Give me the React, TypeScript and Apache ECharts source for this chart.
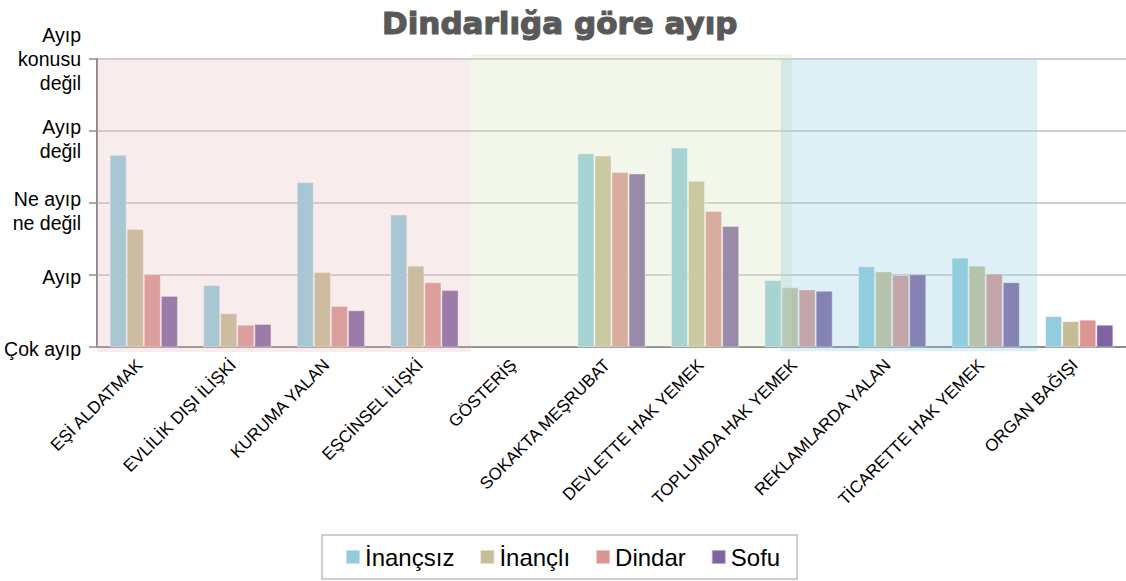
import React, { useEffect, useRef } from "react";
import * as echarts from "echarts";

const categories = [
  "EŞİ ALDATMAK",
  "EVLİLİK DIŞI İLİŞKİ",
  "KURUMA YALAN",
  "EŞCİNSEL İLİŞKİ",
  "GÖSTERİŞ",
  "SOKAKTA MEŞRUBAT",
  "DEVLETTE HAK YEMEK",
  "TOPLUMDA HAK YEMEK",
  "REKLAMLARDA YALAN",
  "TİCARETTE HAK YEMEK",
  "ORGAN BAĞIŞI",
];

const seriesNames = ["İnançsız", "İnançlı", "Dindar", "Sofu"];

const inancsiz = [3.67, 1.86, 3.29, 2.84, null, 3.69, 3.77, 1.93, 2.12, 2.24, 1.43];
const inancli = [2.64, 1.47, 2.04, 2.13, null, 3.66, 3.31, 1.83, 2.05, 2.13, 1.36];
const dindar = [2.01, 1.31, 1.57, 1.9, null, 3.43, 2.89, 1.8, 2.0, 2.02, 1.38];
const sofu = [1.71, 1.32, 1.51, 1.79, null, 3.41, 2.68, 1.78, 2.01, 1.9, 1.31];

const yLevels = ["Çok ayıp", "Ayıp", "Ne ayıp\nne değil", "Ayıp\ndeğil", "Ayıp\nkonusu\ndeğil"];

// background bands, in axis units (category index along x, level along y)
const bandX0 = [0, 4, 7.31];
const bandX1 = [4, 7.43, 10.05];
const bandY0 = [0.93, 1, 0.94];
const bandY1 = [4.99, 5.07, 5.0];

const barColors = ["#93CDDD", "#C4BD97", "#D99694", "#8064A2"];
const bandColors = ["rgba(230,185,184,0.27)", "rgba(215,228,189,0.3)", "rgba(147,205,221,0.3)"];

export default function App() {
  const ref = useRef<HTMLDivElement>(null);
  useEffect(() => {
    document.body.style.margin = "0";
    if (!ref.current) return;
    const chart = echarts.init(ref.current, null, { renderer: "svg" });
    const values = [inancsiz, inancli, dindar, sofu];
    const bandData = bandX0.map((x0, i) => [x0, bandX1[i], bandY0[i], bandY1[i]]);
    const font = "'Liberation Sans', Arial, sans-serif";
    chart.setOption({
      animation: false,
      title: {
        text: "Dindarlığa göre ayıp",
        left: 377,
        top: 2,
        textStyle: {
          fontFamily: "'DejaVu Sans', sans-serif",
          fontWeight: "bold",
          fontSize: 31,
          color: "#595959",
          textBorderColor: "#595959",
          textBorderWidth: 1.2,
        },
      },
      legend: {
        data: seriesNames,
        left: 322,
        top: 535,
        padding: [10, 17, 10, 23],
        itemGap: 25,
        itemWidth: 14,
        itemHeight: 14,
        icon: "rect",
        borderColor: "#BFBFBF",
        borderWidth: 1.5,
        textStyle: { fontFamily: font, fontSize: 24, color: "#000" },
      },
      grid: { left: 97, right: 0, top: 59, bottom: 234, containLabel: false },
      xAxis: [
        {
          type: "category",
          data: categories,
          axisLine: { lineStyle: { color: "#8C8C8C", width: 2 } },
          axisTick: { length: 6, lineStyle: { color: "#8C8C8C", width: 1.5 } },
          axisLabel: {
            rotate: 45,
            interval: 0,
            margin: 11,
            padding: [0, 6, 0, 0],
            fontFamily: font,
            fontSize: 17,
            color: "#000",
          },
        },
        { type: "value", min: 0, max: 11, show: false },
      ],
      yAxis: {
        type: "value",
        min: 1,
        max: 5,
        interval: 1,
        axisLine: { show: true, lineStyle: { color: "#8C8C8C", width: 2 } },
        axisTick: { show: true, length: 8, lineStyle: { color: "#8C8C8C", width: 1.5 } },
        splitLine: { lineStyle: { color: "#C0C0C0", width: 1.5 } },
        axisLabel: {
          margin: 16,
          formatter: (v: number) => {
            const t = yLevels[Math.round(v) - 1] || "";
            const lines = t.split("\n");
            const body = lines.map((l) => `{t|${l}}`).join("\n");
            if (lines.length === 1) return `{s1| }\n${body}`;
            if (lines.length === 2) return `{s2| }\n${body}`;
            return body;
          },
          rich: {
            t: { fontFamily: font, fontSize: 19.5, lineHeight: 24, color: "#000", align: "right" },
            s1: { fontSize: 1, lineHeight: 4, align: "right" },
            s2: { fontSize: 1, lineHeight: 16, align: "right" },
          },
        },
      },
      series: [
        ...seriesNames.map((name, i) => ({
          name,
          type: "bar",
          xAxisIndex: 0,
          data: values[i],
          barGap: "0%",
          barCategoryGap: "27%",
          z: 2,
          itemStyle: {
            color: barColors[i],
            borderColor: "rgba(255,255,255,0.45)",
            borderWidth: 1,
          },
        })),
        {
          type: "custom",
          name: "bands",
          xAxisIndex: 1,
          yAxisIndex: 0,
          z: 5,
          clip: false,
          silent: true,
          data: bandData,
          renderItem: (params: any, api: any) => {
            const p0 = api.coord([api.value(0), api.value(3)]);
            const p1 = api.coord([api.value(1), api.value(2)]);
            return {
              type: "rect",
              shape: { x: p0[0], y: p0[1], width: p1[0] - p0[0], height: p1[1] - p0[1] },
              style: { fill: bandColors[params.dataIndex] },
            };
          },
        },
      ],
    });
    return () => chart.dispose();
  }, []);
  return <div ref={ref} style={{ width: 1126, height: 581 }} />;
}
